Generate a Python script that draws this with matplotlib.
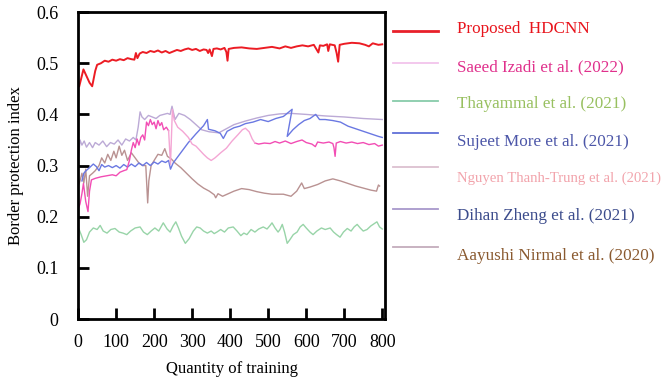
import numpy as np
import matplotlib
matplotlib.use("Agg")
import matplotlib.pyplot as plt
from matplotlib.lines import Line2D

plt.rcParams['font.family'] = ['Liberation Serif', 'DejaVu Serif']

# ---- data (x = quantity of training, y = border protection index)
prop_x = [3, 8, 14, 22, 30, 37, 45, 50, 60, 70, 80, 90, 100, 110, 120, 130, 140, 148, 152, 156,
          162, 170, 180, 190, 200, 210, 220, 230, 240, 250, 260, 270, 280, 290, 300, 310, 320, 330,
          338, 342, 346, 352, 356, 365, 375, 385, 390, 393, 396, 410, 430, 450, 470, 490, 510, 530,
          545, 560, 575, 590, 605, 620, 632, 636, 645, 655, 658, 662, 675, 680, 684, 688, 700, 720,
          740, 755, 765, 775, 790, 800]
prop_y = [0.455, 0.470, 0.488, 0.475, 0.462, 0.455, 0.485, 0.497, 0.500, 0.505, 0.503, 0.507,
          0.505, 0.508, 0.506, 0.510, 0.508, 0.507, 0.520, 0.510, 0.519, 0.522, 0.520, 0.524,
          0.522, 0.525, 0.521, 0.524, 0.520, 0.523, 0.526, 0.524, 0.527, 0.529, 0.526, 0.528,
          0.524, 0.527, 0.526, 0.520, 0.527, 0.514, 0.528, 0.529, 0.527, 0.530, 0.522, 0.505,
          0.528, 0.530, 0.531, 0.529, 0.528, 0.530, 0.532, 0.529, 0.533, 0.530, 0.533, 0.535,
          0.533, 0.536, 0.521, 0.535, 0.534, 0.537, 0.524, 0.537, 0.535, 0.520, 0.503, 0.536,
          0.538, 0.540, 0.539, 0.536, 0.533, 0.539, 0.536, 0.537]

saeed_x = [0, 5, 10, 14, 20, 26, 30, 35, 45, 60, 75, 90, 100, 110, 120, 128, 135, 140, 145, 150,
           155, 160, 165, 170, 175, 180, 185, 190, 195, 200, 205, 210, 215, 220, 225, 232, 238,
           None,
           465, 475, 490, 505, 518, 530, 545, 560, 575, 589, 600, 615, 624, 630, 645, 660, 670,
           673, 676, 679, 690, 705, 720, 735, 750, 765, 780, 790, 800]
saeed_y = [0.215, 0.225, 0.245, 0.265, 0.230, 0.210, 0.250, 0.272, 0.275, 0.278, 0.280, 0.282,
           0.280, 0.287, 0.290, 0.292, 0.310, 0.330, 0.345, 0.335, 0.352, 0.340, 0.355, 0.360,
           0.350, 0.385, 0.378, 0.390, 0.380, 0.385, 0.372, 0.388, 0.378, 0.384, 0.370, 0.375,
           0.368,
           None,
           0.344, 0.342, 0.344, 0.343, 0.347, 0.344, 0.348, 0.343, 0.347, 0.350, 0.345, 0.342,
           0.337, 0.346, 0.344, 0.346, 0.343, 0.335, 0.318, 0.344, 0.347, 0.344, 0.346, 0.343,
           0.345, 0.341, 0.343, 0.338, 0.340]

thay_x = [0, 8, 15, 22, 30, 40, 50, 58, 66, 76, 86, 97, 108, 118, 128, 138, 150, 163, 172, 182,
          192, 202, 212, 224, 234, 242, 250, 257, 264, 272, 282, 292, 303, 312, 321, 330, 340,
          350, 358, 365, 375, 385, 395, 408, 418, 428, 436, 444, 455, 465, 475, 487, 497, 505,
          510, 518, 526, 531, 537, 543, 550, 557, 566, 576, 584, 592, 600, 610, 618, 628, 640,
          650, 663, 672, 680, 689, 698, 708, 718, 726, 734, 742, 750, 760, 770, 778, 786, 793, 800]
thay_y = [0.180, 0.165, 0.150, 0.155, 0.170, 0.178, 0.175, 0.183, 0.172, 0.168, 0.175, 0.177,
          0.170, 0.168, 0.165, 0.172, 0.178, 0.180, 0.170, 0.165, 0.172, 0.178, 0.172, 0.188,
          0.176, 0.170, 0.182, 0.190, 0.178, 0.162, 0.148, 0.157, 0.172, 0.180, 0.178, 0.172,
          0.168, 0.172, 0.167, 0.170, 0.175, 0.170, 0.178, 0.180, 0.172, 0.163, 0.168, 0.165,
          0.175, 0.170, 0.176, 0.180, 0.176, 0.183, 0.188, 0.178, 0.170, 0.175, 0.185, 0.170,
          0.148, 0.155, 0.165, 0.170, 0.180, 0.185, 0.178, 0.170, 0.165, 0.172, 0.178, 0.175,
          0.178, 0.170, 0.165, 0.160, 0.170, 0.177, 0.172, 0.180, 0.185, 0.178, 0.172, 0.175,
          0.182, 0.186, 0.190, 0.180, 0.176]

sujeet_x = [10, 15, 21, 30, 40, 48, 55, 62, 70, 80, 90, 100, 110, 120, 130, 140, 150, 160, 170,
            180, 190, 200, 210, 220, 230, 238, 243, 250, 270, 290, 310, 330, 340, 343, 360, 374,
            382, 392, 410, 425, 440, 460, 480, 500, 520, 540, 563, 550, 565, 580, 595, 610, 625,
            635, 650, 670, 690, 710, 730, 750, 770, 790, 800]
sujeet_y = [0.270, 0.285, 0.290, 0.296, 0.303, 0.298, 0.290, 0.302, 0.297, 0.300, 0.296, 0.300,
            0.295, 0.302, 0.297, 0.303, 0.298, 0.305, 0.300, 0.306, 0.300, 0.307, 0.303, 0.309,
            0.306, 0.310, 0.293, 0.305, 0.325, 0.345, 0.362, 0.378, 0.390, 0.371, 0.368, 0.363,
            0.353, 0.367, 0.374, 0.377, 0.382, 0.385, 0.390, 0.386, 0.392, 0.396, 0.410, 0.357,
            0.370, 0.380, 0.388, 0.392, 0.400, 0.390, 0.390, 0.388, 0.385, 0.377, 0.372, 0.367,
            0.362, 0.357, 0.355]

nguyen_x = [238, 243, 248, 253, 262, 275, 290, 300, 310, 320, 330, 340, 350, 360, 375, 390, 405,
            420, 432, 440, 450, 458, 465]
nguyen_y = [0.368, 0.302, 0.410, 0.388, 0.375, 0.367, 0.355, 0.342, 0.338, 0.330, 0.322, 0.315,
            0.310, 0.315, 0.325, 0.334, 0.348, 0.360, 0.370, 0.373, 0.366, 0.352, 0.344]

dihan_x = [0, 5, 10, 16, 22, 30, 38, 45, 55, 65, 75, 85, 95, 105, 115, 125, 135, 145, 152, 158,
           163, 168, 175, 185, 195, 205, 215, 225, 235, 242, 247, 255, 265, 280, 295, 310, 325,
           345, 370, 390, 410, 440, 470, 500, 530, 560, 600, 650, 700, 750, 800]
dihan_y = [0.305, 0.350, 0.340, 0.348, 0.336, 0.345, 0.335, 0.345, 0.340, 0.348, 0.337, 0.345,
           0.342, 0.350, 0.340, 0.352, 0.348, 0.355, 0.350, 0.375, 0.405, 0.395, 0.390, 0.398,
           0.395, 0.392, 0.398, 0.400, 0.402, 0.400, 0.416, 0.390, 0.402, 0.398, 0.390, 0.380,
           0.370, 0.366, 0.364, 0.372, 0.380, 0.387, 0.393, 0.398, 0.401, 0.402, 0.400, 0.397,
           0.395, 0.392, 0.390]

aayushi_x = [0, 5, 10, 15, 20, 25, 30, 38, 45, 55, 62, 70, 78, 86, 94, 100, 108, 115, 122, 130,
             140, 150, 160, 170, 178, 183, 186, 192, 200, 210, 220, 228, 235, 245, 255, 270, 285,
             300, 315, 330, 345, 358, 362, 368, 380, 395, 410, 430, 450, 470, 490, 510, 540, 560,
             575, 588, 595, 610, 630, 650, 670, 690, 710, 730, 750, 770, 785, 790, 793]
aayushi_y = [0.260, 0.270, 0.285, 0.266, 0.293, 0.240, 0.280, 0.285, 0.290, 0.300, 0.315, 0.305,
             0.322, 0.310, 0.328, 0.315, 0.338, 0.320, 0.330, 0.310, 0.325, 0.315, 0.305, 0.300,
             0.300, 0.227, 0.270, 0.300, 0.310, 0.322, 0.320, 0.333, 0.318, 0.313, 0.305, 0.296,
             0.285, 0.274, 0.264, 0.256, 0.250, 0.243, 0.237, 0.245, 0.240, 0.245, 0.250, 0.255,
             0.253, 0.249, 0.246, 0.244, 0.244, 0.240, 0.250, 0.266, 0.255, 0.258, 0.263, 0.270,
             0.274, 0.270, 0.265, 0.260, 0.256, 0.252, 0.250, 0.262, 0.260]

labels = ['Proposed  HDCNN', 'Saeed Izadi et al. (2022)', 'Thayammal et al. (2021)',
          'Sujeet More et al. (2021)', 'Nguyen Thanh-Trung et al. (2021)',
          'Dihan Zheng et al. (2021)', 'Aayushi Nirmal et al. (2020)']

# line colour, legend line colour, text colour, line width, label size
styles = [
    ('#ec1c24', '#e8202a', '#e8141c', 1.4, 12.3),
    ('#f24db4', '#f2c4ec', '#e0308c', 1.0, 12.3),
    ('#98d4a8', '#88ccaa', '#98c060', 1.0, 12.3),
    ('#6a78e2', '#6070d8', '#4c56a8', 1.0, 12.3),
    ('#f4a6d4', '#dcc0d0', '#f2a4ac', 1.0, 10.6),
    ('#bcaad6', '#a898cc', '#3c4c8c', 1.0, 12.3),
    ('#b99292', '#c4acbc', '#8a5a30', 1.0, 12.3),
]

series = [(prop_x, prop_y), (saeed_x, saeed_y), (thay_x, thay_y), (sujeet_x, sujeet_y),
          (nguyen_x, nguyen_y), (dihan_x, dihan_y), (aayushi_x, aayushi_y)]

fig = plt.figure(figsize=(6.62, 3.78), dpi=100)
ax = fig.add_axes([0.118, 0.156, 0.464, 0.812])

# draw order: back lines first, proposed and pink segment on top
order = [2, 6, 5, 3, 1, 4, 0]
for i in order:
    xs, ys = series[i]
    xs = np.array([np.nan if v is None else v for v in xs], dtype=float)
    ys = np.array([np.nan if v is None else v for v in ys], dtype=float)
    ax.plot(xs, ys, color=styles[i][0], lw=styles[i][3])

ax.set_xlim(0, 808)
ax.set_ylim(0, 0.6)
ax.set_xticks(np.arange(0, 801, 100))
ax.set_yticks([0, 0.1, 0.2, 0.3, 0.4, 0.5, 0.6])
ax.set_yticklabels(['0', '0.1', '0.2', '0.3', '0.4', '0.5', '0.6'])
ax.tick_params(direction='in', length=8, width=2, labelsize=13, colors='black')
ax.tick_params(axis='y', pad=14)
ax.tick_params(axis='x', pad=11)
for s in ax.spines.values():
    s.set_linewidth(2)
ax.set_xlabel('Quantity of training', fontsize=12, labelpad=7)
ax.set_ylabel('Border protection index', fontsize=12, labelpad=9)

# legend drawn beside the axes
line_y = [0.918, 0.833, 0.733, 0.648, 0.558, 0.447, 0.347]
text_y = [0.924, 0.823, 0.724, 0.624, 0.529, 0.429, 0.323]
for i, lab in enumerate(labels):
    fig.add_artist(Line2D([0.594, 0.661], [line_y[i], line_y[i]], color=styles[i][1],
                          lw=2 if i == 0 else 1.3, transform=fig.transFigure))
    fig.text(0.690, text_y[i], lab, color=styles[i][2], fontsize=styles[i][4], va='center')

fig.savefig('out.png', dpi=100)
